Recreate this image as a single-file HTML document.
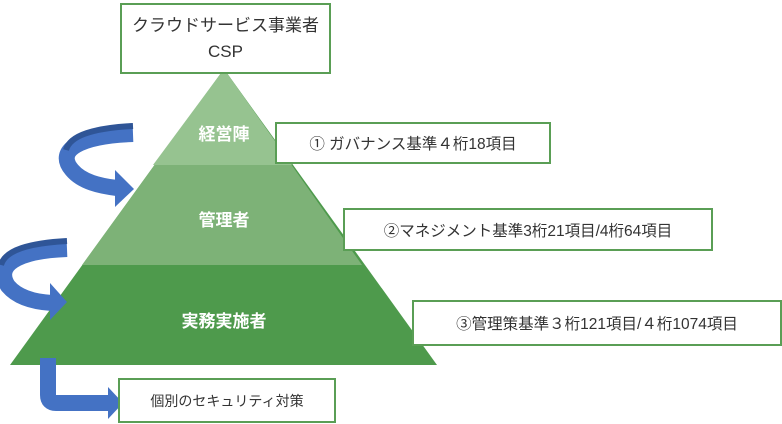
<!DOCTYPE html>
<html><head><meta charset="utf-8"><style>
body{margin:0;width:782px;height:424px;background:#fff;overflow:hidden;position:relative;font-family:"Liberation Sans","Noto Sans CJK JP",sans-serif;}
.b{position:absolute;box-sizing:border-box;border:2px solid #5a9e55;background:#fff;color:#333;display:flex;align-items:center;justify-content:center;text-align:center;font-size:15.5px;}
.t{position:absolute;color:#fff;font-weight:bold;font-size:17px;text-align:center;}
</style></head><body>
<svg width="782" height="424" style="position:absolute;left:0;top:0">
<polygon points="224,69 437,365 10,365" fill="#4e9a4c"/>
<polygon points="224,69 362,265 82,265" fill="#7db277"/>
<polygon points="224,69 292,165 153,165" fill="#96c390"/>
<g fill="none" stroke="#4472c4" stroke-width="16">
<path d="M133,134 C80,136 55,150 72,170 C82,182 100,186 117,188"/>
<path d="M67,249 C15,251 -5,266 8,286 C18,298 35,302 52,303"/>
<path d="M48,358 L48,395 Q48,403 56,403 L110,403"/>
</g>
<path d="M133,126 C95,128 70,135 66,150" fill="none" stroke="#2f5597" stroke-width="6"/>
<path d="M67,241 C30,243 5,250 1,265" fill="none" stroke="#2f5597" stroke-width="6"/>
<polygon points="115,170 134,189 115,207" fill="#4472c4"/>
<polygon points="50,283 67,302 50,320" fill="#4472c4"/>
<polygon points="108,387 123,403 108,419" fill="#4472c4"/>
</svg>
<div class="b" style="left:120px;top:3px;width:211px;height:71px;font-size:17px;line-height:26px">クラウドサービス事業者<br>CSP</div>
<div class="t" style="left:174px;top:120px;width:100px">経営陣</div>
<div class="t" style="left:174px;top:206px;width:100px">管理者</div>
<div class="t" style="left:154px;top:307px;width:140px">実務実施者</div>
<div class="b" style="left:275px;top:122px;width:276px;height:42px">① ガバナンス基準４桁18項目</div>
<div class="b" style="left:343px;top:208px;width:370px;height:43px">②マネジメント基準3桁21項目/4桁64項目</div>
<div class="b" style="left:412px;top:300px;width:370px;height:46px">③管理策基準３桁121項目/４桁1074項目</div>
<div class="b" style="left:118px;top:378px;width:218px;height:45px;font-size:14px">個別のセキュリティ対策</div>
</body></html>
